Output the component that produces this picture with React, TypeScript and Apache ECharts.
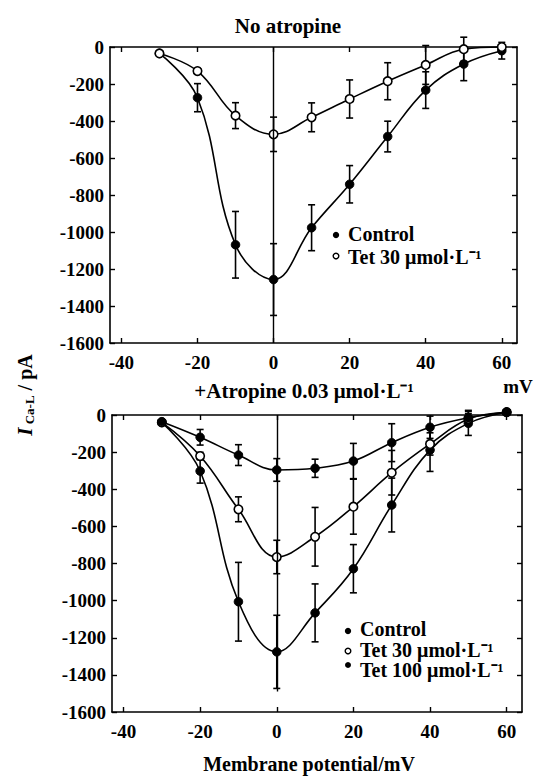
import React, { useEffect, useRef } from "react";
import * as echarts from "echarts";

// Membrane potential (mV) of each test step
const voltages = [-30, -20, -10, 0, 10, 20, 30, 40, 50, 60];
const xTickValues = [-40, -20, 0, 20, 40, 60];

// Panel A: no atropine (I Ca-L, pA)
const topControl = [-35, -274, -1069, -1257, -977, -742, -484, -233, -92, -20];
const topControlErr = [10, 76, 180, 194, 124, 101, 83, 99, 90, 45];
const topTet30 = [-35, -130, -371, -472, -380, -281, -185, -97, -12, 0];
const topTet30Err = [10, 15, 70, 93, 78, 103, 100, 105, 65, 10];

// Panel B: + atropine 0.03 umol/L
const botControl = [-40, -302, -1006, -1276, -1066, -828, -485, -189, -45, 15];
const botControlErr = [10, 65, 212, 197, 156, 130, 145, 115, 65, 10];
const botTet30 = [-40, -221, -508, -765, -656, -494, -311, -156, -22, 15];
const botTet30Err = [10, 20, 67, 90, 158, 148, 120, 60, 30, 10];
const botTet100 = [-36, -120, -216, -296, -287, -248, -149, -66, -15, 15];
const botTet100Err = [10, 42, 56, 61, 49, 95, 102, 60, 40, 10];

const FONT = "Liberation Serif, serif";
const BLACK = "#000";

function errorSeries(name: string, means: number[], errs: number[], axis: number) {
  return {
    type: "custom",
    name,
    xAxisIndex: axis * 2,
    yAxisIndex: axis * 2,
    silent: true,
    clip: false,
    z: 2,
    data: voltages.map((v, i) => [v, means[i] - errs[i], means[i] + errs[i]]),
    encode: { x: 0, y: [1, 2] },
    renderItem: (_params: any, api: any) => {
      const x = api.value(0);
      const lo = api.coord([x, api.value(1)]);
      const hi = api.coord([x, api.value(2)]);
      const w = 3.5;
      const st = { stroke: BLACK, lineWidth: 1.6 };
      return {
        type: "group",
        children: [
          { type: "line", shape: { x1: lo[0], y1: lo[1], x2: hi[0], y2: hi[1] }, style: st },
          { type: "line", shape: { x1: lo[0] - w, y1: lo[1], x2: lo[0] + w, y2: lo[1] }, style: st },
          { type: "line", shape: { x1: hi[0] - w, y1: hi[1], x2: hi[0] + w, y2: hi[1] }, style: st },
        ],
      };
    },
  };
}

function lineSeries(name: string, values: number[], axis: number, open: boolean, extra: any = {}) {
  return {
    type: "line",
    name,
    xAxisIndex: axis * 2,
    yAxisIndex: axis * 2,
    data: voltages.map((v, i) => [v, values[i]]),
    smooth: 0.4,
    clip: false,
    symbol: "circle",
    symbolSize: 8.5,
    z: 4,
    lineStyle: { color: BLACK, width: 1.6 },
    itemStyle: open
      ? { color: "#fff", borderColor: BLACK, borderWidth: 1.6 }
      : { color: BLACK, borderColor: BLACK, borderWidth: 1 },
    ...extra,
  };
}

function zeroLine(bottom: number) {
  return {
    silent: true,
    symbol: "none",
    label: { show: false },
    lineStyle: { color: BLACK, width: 1.4, type: "solid" },
    data: [[{ coord: [0, 0] }, { coord: [0, bottom] }]],
  };
}

const labelStyle = {
  color: BLACK,
  fontFamily: FONT,
  fontWeight: "bold",
  fontSize: 19,
};

function xAxes(gridIndex: number) {
  const base = {
    type: "value",
    gridIndex,
    min: -43,
    max: 64,
    splitLine: { show: false },
    axisLine: { show: true, onZero: false, lineStyle: { color: BLACK, width: 1.6 } },
  };
  return [
    {
      ...base,
      position: "bottom",
      axisTick: { show: true, inside: true, length: 5, customValues: xTickValues, lineStyle: { color: BLACK, width: 1.4 } },
      axisLabel: {
        show: true,
        customValues: xTickValues,
        margin: 10,
        formatter: (v: number) => String(v),
        ...labelStyle,
      },
    },
    {
      ...base,
      position: "top",
      axisTick: { show: true, inside: true, length: 5, customValues: xTickValues, lineStyle: { color: BLACK, width: 1.4 } },
      axisLabel: { show: false },
    },
  ];
}

function yAxes(gridIndex: number) {
  const base = {
    type: "value",
    gridIndex,
    min: -1600,
    max: 0,
    interval: 200,
    splitLine: { show: false },
    axisLine: { show: true, onZero: false, lineStyle: { color: BLACK, width: 1.6 } },
    axisTick: { show: true, inside: true, length: 5, lineStyle: { color: BLACK, width: 1.4 } },
  };
  return [
    {
      ...base,
      position: "left",
      axisLabel: {
        show: true,
        margin: 6,
        formatter: (v: number) => String(v),
        ...labelStyle,
      },
    },
    { ...base, position: "right", axisLabel: { show: false } },
  ];
}

const txt = (x: number, y: number, text: string, size = 20, align = "center", extra: any = {}) => ({
  type: "text",
  x,
  y,
  style: {
    text,
    fill: BLACK,
    font: `bold ${size}px ${FONT}`,
    align,
    verticalAlign: "middle",
  },
  ...extra,
});

const dot = (x: number, y: number, open: boolean, r = 3.2) => ({
  type: "circle",
  shape: { cx: x, cy: y, r },
  style: open ? { fill: "#fff", stroke: BLACK, lineWidth: 1.4 } : { fill: BLACK },
});

export default function App() {
  const ref = useRef<HTMLDivElement>(null);
  useEffect(() => {
    if (!ref.current) return;
    const chart = echarts.init(ref.current, null, { renderer: "svg" });
    const option: any = {
      animation: false,
      backgroundColor: "#fff",
      grid: [
        { left: 110, top: 47, width: 407, height: 296 },
        { left: 112, top: 415, width: 410, height: 297 },
      ],
      xAxis: [...xAxes(0), ...xAxes(1)],
      yAxis: [...yAxes(0), ...yAxes(1)],
      series: [
        errorSeries("Control err", topControl, topControlErr, 0),
        errorSeries("Tet 30 err", topTet30, topTet30Err, 0),
        lineSeries("Control", topControl, 0, false, { markLine: zeroLine(-1600) }),
        lineSeries("Tet 30 μmol·L⁻¹", topTet30, 0, true),
        errorSeries("Control err B", botControl, botControlErr, 1),
        errorSeries("Tet 30 err B", botTet30, botTet30Err, 1),
        errorSeries("Tet 100 err B", botTet100, botTet100Err, 1),
        lineSeries("Control B", botControl, 1, false, { markLine: zeroLine(-1490) }),
        lineSeries("Tet 30 μmol·L⁻¹ B", botTet30, 1, true),
        lineSeries("Tet 100 μmol·L⁻¹ B", botTet100, 1, false),
      ],
      graphic: [
        txt(288, 26, "No atropine", 21),
        txt(304, 391, "+Atropine 0.03 μmol·L⁻¹", 21),
        txt(518, 386, "mV", 19),
        txt(309, 764, "Membrane potential/mV", 20),
        {
          type: "text",
          x: 25,
          y: 395,
          rotation: Math.PI / 2,
          style: {
            text: "{i|I}{s| Ca-L}{n| / pA}",
            align: "center",
            verticalAlign: "middle",
            fill: BLACK,
            rich: {
              i: { font: `italic bold 21px ${FONT}`, fill: BLACK, verticalAlign: "middle" },
              s: { font: `bold 13px ${FONT}`, fill: BLACK, verticalAlign: "bottom", padding: [8, 0, 0, 0] },
              n: { font: `bold 20px ${FONT}`, fill: BLACK, verticalAlign: "middle" },
            },
          },
        },
        dot(336, 235, false),
        txt(348, 234, "Control", 20, "left"),
        dot(336, 256, true, 2.8),
        txt(348, 257, "Tet 30 μmol·L⁻¹", 20, "left"),
        dot(348, 631, false),
        txt(360, 629, "Control", 20, "left"),
        dot(348, 651, true, 2.8),
        txt(360, 650, "Tet 30 μmol·L⁻¹", 20, "left"),
        dot(348, 665, false, 3),
        txt(360, 670, "Tet 100 μmol·L⁻¹", 20, "left"),
      ],
    };
    chart.setOption(option);
    return () => chart.dispose();
  }, []);
  return (
    <div
      ref={ref}
      style={{ position: "absolute", left: 0, top: 0, width: 535, height: 776, background: "#fff" }}
    />
  );
}
